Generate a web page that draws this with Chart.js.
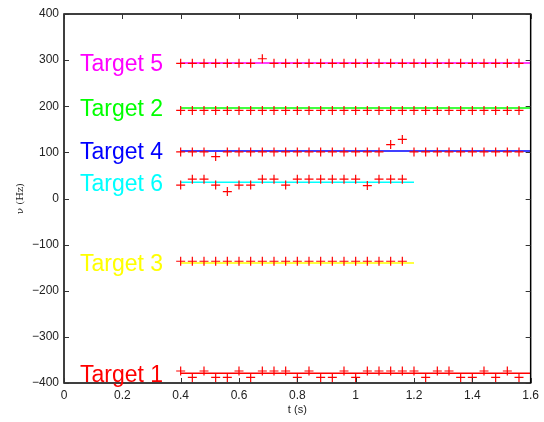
<!DOCTYPE html>
<html>
<head>
<meta charset="utf-8">
<script src="https://cdn.jsdelivr.net/npm/chart.js@4/dist/chart.umd.min.js"></script>
<style>
  html, body { margin: 0; padding: 0; background: #fff; }
  #wrap { width: 544px; height: 422px; }
</style>
</head>
<body>
<div id="wrap"><canvas id="freq"></canvas></div>
<script>
// measurement times (s)
const times = [0.40, 0.44, 0.48, 0.52, 0.56, 0.60, 0.64, 0.68, 0.72, 0.76,
               0.80, 0.84, 0.88, 0.92, 0.96, 1.00, 1.04, 1.08, 1.12, 1.16,
               1.20, 1.24, 1.28, 1.32, 1.36, 1.40, 1.44, 1.48, 1.52, 1.56];

// measured frequencies per target (Hz)
const target1 = [-374, -388, -374, -388, -388, -374, -388, -374, -374, -374,
                 -388, -374, -388, -388, -374, -388, -374, -374, -374, -374,
                 -374, -388, -374, -374, -388, -388, -374, -388, -374, -388];
const target2 = [191, 191, 191, 191, 191, 191, 191, 191, 191, 191,
                 191, 191, 191, 191, 191, 191, 191, 191, 191, 191,
                 191, 191, 191, 191, 191, 191, 191, 191, 191, 191];
const target3 = [-136, -136, -136, -136, -136, -136, -136, -136, -136, -136,
                 -136, -136, -136, -136, -136, -136, -136, -136, -136, -136];
const target4 = [101, 101, 101, 91, 101, 101, 101, 101, 101, 101,
                 101, 101, 101, 101, 101, 101, 101, 101, 117, 128,
                 101, 101, 101, 101, 101, 101, 101, 101, 101, 101];
const target5 = [293, 293, 293, 293, 293, 293, 293, 303, 293, 293,
                 293, 293, 293, 293, 293, 293, 293, 293, 293, 293,
                 293, 293, 293, 293, 293, 293, 293, 293, 293, 293];
const target6 = [29, 42, 42, 29, 15, 29, 29, 42, 42, 29,
                 42, 42, 42, 42, 42, 42, 28, 42, 42, 42];

// fitted tracks
const trackNames  = ['Target 1', 'Target 2', 'Target 3', 'Target 4', 'Target 5', 'Target 6'];
const trackLevels = [-379, 196, -140, 103, 294, 35];
const trackStart  = [0.4, 0.4, 0.4, 0.4, 0.4, 0.4];
const trackEnd    = [1.6, 1.6, 1.2, 1.6, 1.6, 1.2];
const trackColors = ['#ff0000', '#00ff00', '#ffff00', '#0000ff', '#ff00ff', '#00ffff'];

const measured = [target1, target2, target3, target4, target5, target6];

const datasets = [];
trackLevels.forEach((lvl, i) => {
  datasets.push({
    label: trackNames[i],
    data: [{x: trackStart[i], y: lvl}, {x: trackEnd[i], y: lvl}],
    showLine: true,
    borderColor: trackColors[i],
    borderWidth: 1.5,
    pointRadius: 0,
    order: 2
  });
});
measured.forEach((vals) => {
  datasets.push({
    data: vals.map((v, j) => ({x: times[j], y: v})),
    showLine: false,
    pointStyle: 'cross',
    pointRadius: 4.5,
    borderColor: '#ff0000',
    backgroundColor: '#ff0000',
    borderWidth: 1.2,
    order: 1
  });
});

const fmt = v => (v < 0 ? '\u2212' + Math.abs(v) : String(v));

// MATLAB-like box, inward ticks and track labels
const matlabBox = {
  id: 'matlabBox',
  afterDraw(chart) {
    const {ctx, chartArea: a, scales} = chart;
    ctx.save();
    ctx.strokeStyle = '#000';
    ctx.lineWidth = 1.5;
    ctx.strokeRect(a.left, a.top, a.right - a.left, a.bottom - a.top);
    ctx.lineWidth = 1;
    ctx.strokeStyle = '#333';
    scales.x.ticks.forEach(t => {
      const px = Math.round(scales.x.getPixelForValue(t.value)) + 0.5;
      ctx.beginPath();
      ctx.moveTo(px, a.bottom); ctx.lineTo(px, a.bottom - 5);
      ctx.moveTo(px, a.top); ctx.lineTo(px, a.top + 5);
      ctx.stroke();
    });
    scales.y.ticks.forEach(t => {
      const py = Math.round(scales.y.getPixelForValue(t.value)) + 0.5;
      ctx.beginPath();
      ctx.moveTo(a.left, py); ctx.lineTo(a.left + 5, py);
      ctx.moveTo(a.right, py); ctx.lineTo(a.right - 5, py);
      ctx.stroke();
    });
    ctx.font = '23px "Liberation Sans", Arial, sans-serif';
    ctx.textBaseline = 'middle';
    ctx.textAlign = 'left';
    trackNames.forEach((name, i) => {
      ctx.fillStyle = trackColors[i];
      ctx.fillText(name, scales.x.getPixelForValue(0.055), scales.y.getPixelForValue(trackLevels[i]) + 2);
    });
    ctx.restore();
  }
};

new Chart(document.getElementById('freq'), {
  type: 'scatter',
  data: { datasets: datasets },
  options: {
    responsive: true,
    maintainAspectRatio: false,
    animation: false,
    layout: { padding: { top: 14, right: 9, left: 0, bottom: 0 } },
    plugins: { legend: { display: false }, tooltip: { enabled: false } },
    scales: {
      x: {
        type: 'linear', min: 0, max: 1.6,
        grid: { display: false, drawTicks: false },
        border: { display: false },
        afterFit: s => { s.height = 39; },
        afterBuildTicks: s => { s.ticks = [0, 0.2, 0.4, 0.6, 0.8, 1, 1.2, 1.4, 1.6].map(v => ({value: v})); },
        ticks: {
          color: '#222', padding: 5, maxRotation: 0,
          font: { family: '"Liberation Sans", Arial, sans-serif', size: 12 },
          callback: v => String(Math.round(v * 10) / 10)
        },
        title: {
          display: true, text: 't (s)', color: '#222', padding: { top: 0, bottom: 5 },
          font: { family: '"Liberation Sans", Arial, sans-serif', size: 11 }
        }
      },
      y: {
        type: 'linear', min: -400, max: 400,
        grid: { display: false, drawTicks: false },
        border: { display: false },
        afterFit: s => { s.width = 64; },
        ticks: {
          stepSize: 100, color: '#222', padding: 5,
          font: { family: '"Liberation Sans", Arial, sans-serif', size: 12 },
          callback: v => fmt(v)
        },
        title: {
          display: true, text: '\u03bd (Hz)', color: '#222', padding: { top: 14, bottom: 0 },
          font: { family: '"DejaVu Serif", "Liberation Serif", serif', size: 10 }
        }
      }
    }
  },
  plugins: [matlabBox]
});
</script>
</body>
</html>
